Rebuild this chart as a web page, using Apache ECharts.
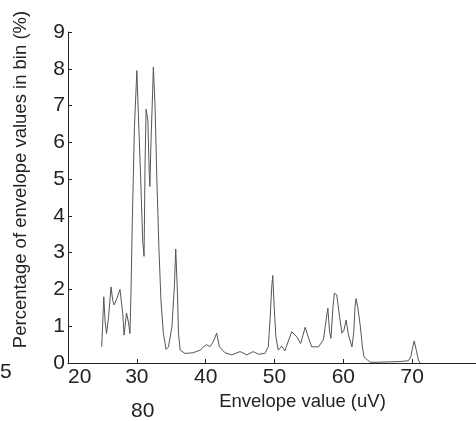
<!DOCTYPE html>
<html>
<head>
<meta charset="utf-8">
<script src="https://cdn.jsdelivr.net/npm/echarts@6/dist/echarts.min.js"></script>
<style>
  html, body { margin: 0; padding: 0; background: #fff; }
  #graph { width: 476px; height: 421px; }
</style>
</head>
<body>
<div id="graph"></div>
<script>
// envelope value (uV) of each point of the curve
const envelopeUV = [
  24.9, 25.2, 25.4, 25.6, 25.9, 26.25, 26.5, 26.7, 27.1, 27.55, 27.95, 28.15, 28.5, 28.8,
  29.0, 29.15, 29.35, 29.65, 29.9, 30.0, 30.2, 30.55, 30.85, 31.05, 31.2, 31.35, 31.6,
  31.8, 31.9, 32.05, 32.3, 32.4, 32.65, 32.9, 33.2, 33.5, 33.85, 34.25, 34.6, 35.1, 35.45,
  35.65, 35.9, 36.05, 36.3, 37.0, 38.2, 39.2, 39.7, 40.15, 40.6, 41.1, 41.6, 42.0, 42.8,
  43.8, 45.0, 46.0, 46.9, 47.65, 48.6, 49.1, 49.35, 49.6, 49.75, 49.95, 50.2, 50.55,
  51.05, 51.5, 52.5, 53.25, 53.8, 54.45, 54.9, 55.4, 56.4, 57.1, 57.5, 57.75, 58.0, 58.2,
  58.5, 58.7, 59.05, 59.45, 59.8, 60.1, 60.4, 60.75, 61.25, 61.5, 61.7, 61.85, 62.1,
  62.45, 62.8, 63.0, 63.4, 63.9, 65.0, 66.5, 68.25, 69.45, 69.8, 70.05, 70.3, 70.6,
  70.9, 71.15
];
// percentage of envelope values in bin (%)
const percentInBin = [
  0.44, 1.8, 1.1, 0.8, 1.26, 2.07, 1.7, 1.58, 1.75, 2.0, 1.35, 0.76, 1.36, 1.09,
  0.8, 1.9, 3.9, 6.4, 7.5, 7.95, 6.9, 5.06, 3.34, 2.9, 5.5, 6.9, 6.6,
  5.16, 4.8, 5.97, 7.4, 8.05, 6.97, 5.06, 3.16, 1.71, 0.81, 0.37, 0.44, 0.99, 2.07,
  3.1, 1.9, 0.8, 0.35, 0.26, 0.28, 0.35, 0.44, 0.5, 0.44, 0.58, 0.81, 0.44, 0.28,
  0.22, 0.31, 0.22, 0.31, 0.24, 0.26, 0.44, 1.17, 2.07, 2.38, 1.53, 0.71, 0.35,
  0.46, 0.33, 0.85, 0.71, 0.53, 0.97, 0.71, 0.44, 0.44, 0.63, 1.17, 1.49, 0.85, 0.67,
  1.53, 1.9, 1.85, 1.26, 0.81, 0.9, 1.17, 0.76, 0.44, 0.81, 1.53, 1.75, 1.51,
  1.03, 0.4, 0.17, 0.1, 0.02, 0.02, 0.03, 0.04, 0.06, 0.17, 0.4, 0.6, 0.35,
  0.08, 0.0
];
const xTicks = [20, 80, 10];   // min, max, step
const yTicks = [0, 9, 1];

var myChart = echarts.init(document.getElementById("graph"));
const FONT = "Liberation Sans";

const options = {
  animation: false,
  grid: { left: 68, top: 32, bottom: 58, right: -5, containLabel: false, outerBoundsMode: "none" },
  xAxis: {
    type: "value",
    min: xTicks[0], max: xTicks[1], interval: xTicks[2],
    name: "Envelope value (uV)",
    nameLocation: "middle",
    nameGap: 20,
    nameTextStyle: { fontFamily: FONT, fontSize: 18.5, color: "#222", padding: [0, 0, 0, 56] },
    axisLine: { lineStyle: { color: "#222", width: 1 } },
    axisTick: { inside: true, length: 4, lineStyle: { color: "#222" } },
    axisLabel: { fontFamily: FONT, fontSize: 21, color: "#222", margin: 4, alignMinLabel: "left", showMaxLabel: false },
    splitLine: { show: false }
  },
  yAxis: {
    type: "value",
    min: yTicks[0], max: yTicks[1], interval: yTicks[2],
    name: "Percentage of envelope values in bin (%)",
    nameLocation: "middle",
    nameGap: 38,
    nameTextStyle: { fontFamily: FONT, fontSize: 18.5, color: "#222", padding: [0, 0, 0, 36] },
    axisLine: { show: true, lineStyle: { color: "#222", width: 1 } },
    axisTick: { show: true, inside: true, length: 4, lineStyle: { color: "#222" } },
    axisLabel: { fontFamily: FONT, fontSize: 21, color: "#222", margin: 3 },
    splitLine: { show: false }
  },
  series: [
    {
      type: "line",
      data: envelopeUV.map((v, i) => [v, percentInBin[i]]),
      showSymbol: false,
      lineStyle: { color: "#555", width: 1 }
    }
  ],
  graphic: [
    { type: "text", left: 0, top: 362, style: { text: "5", font: "21px Liberation Sans", fill: "#222" } },
    { type: "text", left: 131, top: 401, style: { text: "80", font: "21px Liberation Sans", fill: "#222" } }
  ]
};

myChart.setOption(options);
</script>
</body>
</html>
